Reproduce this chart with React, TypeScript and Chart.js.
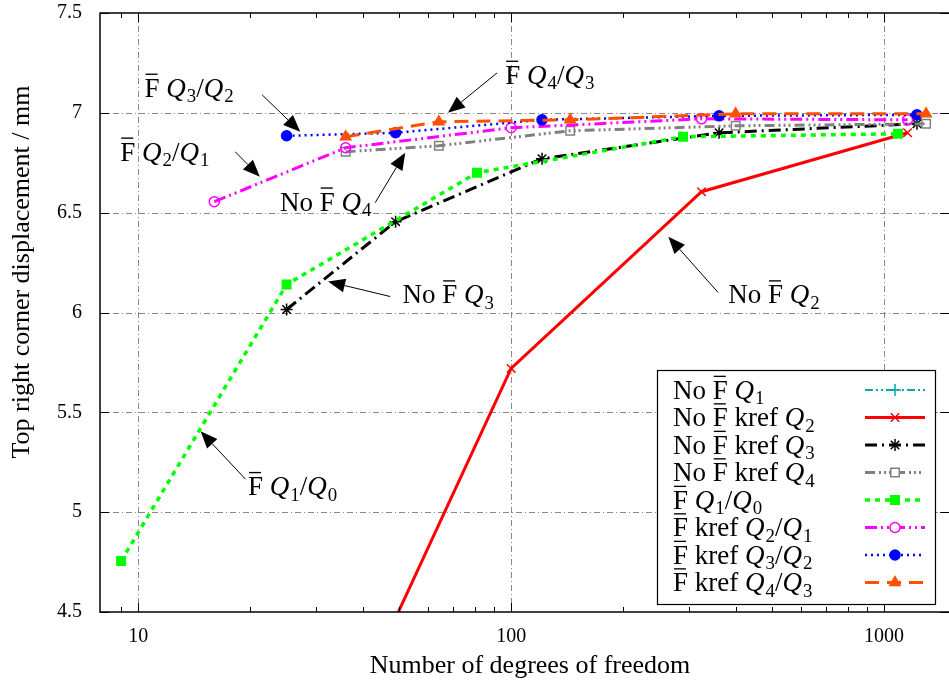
import React, { useEffect, useRef } from 'react';
import { Chart, registerables } from 'chart.js';
import { drawPoint } from 'chart.js/helpers';

Chart.register(...registerables);

const SERIF = '"Liberation Serif", "DejaVu Serif", serif';

// ---------- data ----------
const dofQ1 = [9, 25, 81, 289, 1089];
const noFQ1 = [4.755, 6.14, 6.7, 6.88, 6.895];
const fQ1Q0 = [4.755, 6.14, 6.7, 6.88, 6.895];

const dofQ2 = [36, 100, 324, 1156];
const noFkrefQ2 = [3.93, 5.72, 6.605, 6.9];

const dofQ3 = [25, 49, 121, 361, 1225];
const noFkrefQ3 = [6.015, 6.455, 6.77, 6.9, 6.945];

const dofQ4 = [36, 64, 144, 400, 1296];
const noFkrefQ4 = [6.805, 6.835, 6.91, 6.935, 6.945];

const dofQ2Q1 = [16, 36, 100, 324, 1156];
const fkrefQ2Q1 = [6.555, 6.825, 6.925, 6.97, 6.965];

const dofQ3Q2 = [25, 49, 121, 361, 1225];
const fkrefQ3Q2 = [6.885, 6.9, 6.965, 6.985, 6.99];

const dofQ4Q3 = [36, 64, 144, 400, 1296];
const fkrefQ4Q3 = [6.88, 6.955, 6.965, 6.995, 6.995];

const xMajorTicks = [10, 100, 1000];
const xMinorTicks = [9, 20, 30, 40, 50, 60, 70, 80, 90, 200, 300, 400, 500, 600, 700, 800, 900];
const yTicks = [4.5, 5, 5.5, 6, 6.5, 7, 7.5];

const xTitle = 'Number of degrees of freedom';
const yTitle = 'Top right corner displacement / mm';

// ---------- series styling ----------
const series = [
  { label: 'No F\u0304 Q_1', x: dofQ1, y: noFQ1, color: '#00a8a8', dash: [8, 3, 2, 3, 2, 3], width: 2, point: 'cross', hollow: false, r: 6, hidden: true },
  { label: 'No F\u0304 kref Q_2', x: dofQ2, y: noFkrefQ2, color: '#ff0000', dash: [], width: 3, point: 'crossRot', hollow: false, r: 6, hidden: false },
  { label: 'No F\u0304 kref Q_3', x: dofQ3, y: noFkrefQ3, color: '#000000', dash: [12, 5, 2, 5], width: 3, point: 'star', hollow: false, r: 6, hidden: false },
  { label: 'No F\u0304 kref Q_4', x: dofQ4, y: noFkrefQ4, color: '#808080', dash: [10, 4, 2, 3, 2, 3, 2, 4], width: 3, point: 'rect', hollow: true, r: 6, hidden: false },
  { label: 'F\u0304 Q_1/Q_0', x: dofQ1, y: fQ1Q0, color: '#00ff00', dash: [5, 5], width: 3.5, point: 'rect', hollow: false, r: 6, hidden: false },
  { label: 'F\u0304 kref Q_2/Q_1', x: dofQ2Q1, y: fkrefQ2Q1, color: '#ff00ff', dash: [12, 4, 2, 4, 2, 4], width: 3, point: 'circle', hollow: true, r: 5, hidden: false },
  { label: 'F\u0304 kref Q_3/Q_2', x: dofQ3Q2, y: fkrefQ3Q2, color: '#0000ff', dash: [2, 4], width: 2.5, point: 'circle', hollow: false, r: 5, hidden: false },
  { label: 'F\u0304 kref Q_4/Q_3', x: dofQ4Q3, y: fkrefQ4Q3, color: '#ff5000', dash: [14, 8], width: 3, point: 'triangle', hollow: false, r: 6, hidden: false },
];

// annotations: text anchor (left, middle) and arrow tail -> tip, in data coordinates
const annotations = [
  { text: 'F\u0304 Q_3/Q_2', tx: 10.4, ty: 7.125, ax: 21.5, ay: 7.09, bx: 27.2, by: 6.905 },
  { text: 'F\u0304 Q_4/Q_3', tx: 96.4, ty: 7.19, ax: 91.7, ay: 7.2, bx: 67.7, by: 7.0 },
  { text: 'F\u0304 Q_2/Q_1', tx: 8.95, ty: 6.805, ax: 18.2, ay: 6.805, bx: 21.2, by: 6.68 },
  { text: 'No F\u0304 Q_4', tx: 24.0, ty: 6.555, ax: 43.2, ay: 6.55, bx: 52.0, by: 6.8 },
  { text: 'No F\u0304 Q_3', tx: 51.1, ty: 6.09, ax: 47.4, ay: 6.08, bx: 32.3, by: 6.155 },
  { text: 'No F\u0304 Q_2', tx: 382, ty: 6.09, ax: 359, ay: 6.1, bx: 264, by: 6.38 },
  { text: 'F\u0304 Q_1/Q_0', tx: 19.7, ty: 5.13, ax: 19.4, ay: 5.165, bx: 14.7, by: 5.405 },
];

type Seg = { t: string; it?: boolean; sub?: boolean; bar?: boolean };

function parse(s: string): Seg[] {
  const parts = s.split(/(F\u0304|Q_\d)/).filter((p) => p.length > 0);
  const out: Seg[] = [];
  for (const p of parts) {
    if (p === 'F\u0304') out.push({ t: 'F', bar: true });
    else if (p.startsWith('Q_')) {
      out.push({ t: 'Q', it: true });
      out.push({ t: p.slice(2), sub: true });
    } else out.push({ t: p });
  }
  return out;
}

function drawRich(ctx: CanvasRenderingContext2D, s: string, x: number, yMid: number, size: number) {
  const segs = parse(s);
  const base = yMid + size * 0.33;
  let cx = x;
  ctx.textAlign = 'left';
  ctx.textBaseline = 'alphabetic';
  for (const g of segs) {
    const fs = g.sub ? size * 0.7 : size;
    ctx.font = `${g.it ? 'italic ' : ''}${fs}px ${SERIF}`;
    const y = g.sub ? base + size * 0.2 : base;
    ctx.fillText(g.t, cx, y);
    const w = ctx.measureText(g.t).width;
    if (g.bar) ctx.fillRect(cx + 1, base - size * 0.86, w - 3, Math.max(1, size * 0.05));
    cx += w + (g.it ? 1 : 0);
  }
  return cx - x;
}

function arrow(ctx: CanvasRenderingContext2D, x1: number, y1: number, x2: number, y2: number) {
  const ang = Math.atan2(y2 - y1, x2 - x1);
  const L = 17, W = 7;
  const bx = x2 - L * Math.cos(ang), by = y2 - L * Math.sin(ang);
  ctx.save();
  ctx.strokeStyle = '#000';
  ctx.fillStyle = '#000';
  ctx.lineWidth = 1;
  ctx.setLineDash([]);
  ctx.beginPath();
  ctx.moveTo(x1, y1);
  ctx.lineTo(bx, by);
  ctx.stroke();
  ctx.beginPath();
  ctx.moveTo(x2, y2);
  ctx.lineTo(bx + W * Math.sin(ang), by - W * Math.cos(ang));
  ctx.lineTo(bx - W * Math.sin(ang), by + W * Math.cos(ang));
  ctx.closePath();
  ctx.fill();
  ctx.restore();
}

const decorPlugin = {
  id: 'decor',
  beforeDatasetsDraw(chart: any) {
    const { ctx, chartArea: a, scales } = chart;
    const xs = scales.x, ys = scales.y;
    ctx.save();
    ctx.strokeStyle = '#888888';
    ctx.lineWidth = 1;
    ctx.setLineDash([6, 3, 1, 3]);
    for (const v of xMajorTicks) {
      const px = Math.round(xs.getPixelForValue(v)) + 0.5;
      ctx.beginPath();
      ctx.moveTo(px, a.top);
      ctx.lineTo(px, a.bottom);
      ctx.stroke();
    }
    for (const v of yTicks) {
      if (v === ys.min || v === ys.max) continue;
      const py = Math.round(ys.getPixelForValue(v)) + 0.5;
      ctx.beginPath();
      ctx.moveTo(a.left, py);
      ctx.lineTo(a.right, py);
      ctx.stroke();
    }
    ctx.restore();
  },
  afterDatasetsDraw(chart: any) {
    const { ctx, chartArea: a, scales } = chart;
    const xs = scales.x, ys = scales.y;
    ctx.save();
    // border
    ctx.setLineDash([]);
    ctx.strokeStyle = '#000';
    ctx.lineWidth = 1.5;
    ctx.strokeRect(a.left, a.top, a.right - a.left + 2, a.bottom - a.top);
    ctx.lineWidth = 1;
    const tick = (x1: number, y1: number, x2: number, y2: number) => {
      ctx.beginPath();
      ctx.moveTo(x1, y1);
      ctx.lineTo(x2, y2);
      ctx.stroke();
    };
    for (const v of xMajorTicks) {
      const px = Math.round(xs.getPixelForValue(v)) + 0.5;
      tick(px, a.bottom, px, a.bottom - 9);
      tick(px, a.top, px, a.top + 9);
    }
    for (const v of xMinorTicks) {
      const px = Math.round(xs.getPixelForValue(v)) + 0.5;
      tick(px, a.bottom, px, a.bottom - 5);
      tick(px, a.top, px, a.top + 5);
    }
    for (const v of yTicks) {
      const py = Math.round(ys.getPixelForValue(v)) + 0.5;
      tick(a.left, py, a.left + 9, py);
      tick(a.right, py, a.right - 9, py);
    }

    // annotations
    ctx.fillStyle = '#000';
    for (const an of annotations) {
      drawRich(ctx, an.text, xs.getPixelForValue(an.tx), ys.getPixelForValue(an.ty), 27);
      arrow(ctx, xs.getPixelForValue(an.ax), ys.getPixelForValue(an.ay), xs.getPixelForValue(an.bx), ys.getPixelForValue(an.by));
    }

    // legend
    const bw = 278, bh = 234;
    const bx = a.right - 14 - bw, by = a.bottom - 8 - bh;
    ctx.fillStyle = '#fff';
    ctx.fillRect(bx, by, bw, bh);
    ctx.strokeStyle = '#000';
    ctx.lineWidth = 1.2;
    ctx.strokeRect(bx + 0.5, by + 0.5, bw, bh);
    series.forEach((s, i) => {
      const cy = by + 20 + i * 27.5;
      ctx.fillStyle = '#000';
      drawRich(ctx, s.label, bx + 16, cy, 27);
      const x1 = bx + 208, x2 = bx + 268;
      ctx.save();
      ctx.strokeStyle = s.color;
      ctx.lineWidth = s.width;
      ctx.setLineDash(s.dash);
      ctx.beginPath();
      ctx.moveTo(x1, cy);
      ctx.lineTo(x2, cy);
      ctx.stroke();
      ctx.setLineDash([]);
      ctx.lineWidth = 1.5;
      ctx.strokeStyle = s.color;
      ctx.fillStyle = s.hollow ? '#ffffff' : s.color;
      drawPoint(ctx, { pointStyle: s.point, radius: s.r, rotation: 0, borderWidth: 1.5 } as any, (x1 + x2) / 2, cy);
      ctx.restore();
    });

    // axis titles
    ctx.fillStyle = '#000';
    ctx.font = `26px ${SERIF}`;
    ctx.textAlign = 'center';
    ctx.textBaseline = 'middle';
    ctx.fillText(xTitle, 530, 666);
    ctx.save();
    ctx.translate(22, 272);
    ctx.rotate(-Math.PI / 2);
    ctx.fillText(yTitle, 0, 0);
    ctx.restore();
    ctx.restore();
  },
};

export default function App() {
  const ref = useRef<HTMLCanvasElement | null>(null);
  useEffect(() => {
    if (!ref.current) return;
    const datasets = series.map((s, i) => ({
      label: s.label,
      data: s.x.map((v, j) => ({ x: v, y: s.y[j] })),
      hidden: s.hidden,
      borderColor: s.color,
      backgroundColor: s.color,
      borderWidth: s.width,
      borderDash: s.dash,
      pointStyle: s.point as any,
      pointRadius: s.r,
      pointBorderWidth: 1.5,
      pointBorderColor: s.color,
      pointBackgroundColor: s.hollow ? 'rgba(255,255,255,0)' : s.color,
      tension: 0,
      fill: false,
      order: series.length - i,
    }));
    const chart = new Chart(ref.current, {
      type: 'line',
      data: { datasets },
      options: {
        animation: false,
        responsive: false,
        maintainAspectRatio: false,
        layout: { autoPadding: false, padding: { top: 13, left: 0, right: 0, bottom: 0 } },
        plugins: { legend: { display: false }, tooltip: { enabled: false }, title: { display: false } },
        scales: {
          x: {
            type: 'logarithmic',
            min: 7.9,
            max: 1493,
            grid: { display: false, drawTicks: false },
            border: { display: false },
            afterBuildTicks: (scale: any) => {
              scale.ticks = xMajorTicks.map((v) => ({ value: v, major: true }));
            },
            afterFit: (scale: any) => {
              scale.height = 73;
              scale.paddingLeft = 0;
              scale.paddingRight = 0;
            },
            ticks: {
              autoSkip: false,
              maxRotation: 0,
              padding: 13,
              color: '#000',
              font: { family: SERIF, size: 20 },
              callback: (v: any) => String(v),
            },
          },
          y: {
            type: 'linear',
            min: 4.5,
            max: 7.5,
            grid: { display: false, drawTicks: false },
            border: { display: false },
            afterBuildTicks: (scale: any) => {
              scale.ticks = yTicks.map((v) => ({ value: v }));
            },
            afterFit: (scale: any) => {
              scale.width = 100;
              scale.paddingTop = 0;
              scale.paddingBottom = 0;
            },
            ticks: {
              padding: 18,
              color: '#000',
              font: { family: SERIF, size: 20 },
              callback: (v: any) => String(v),
            },
          },
        },
      },
      plugins: [decorPlugin],
    });
    return () => chart.destroy();
  }, []);
  return (
    <div style={{ position: 'absolute', left: 0, top: 0, width: 949, height: 685, background: '#fff' }}>
      <canvas ref={ref} width={949} height={685} style={{ display: 'block' }} />
    </div>
  );
}
